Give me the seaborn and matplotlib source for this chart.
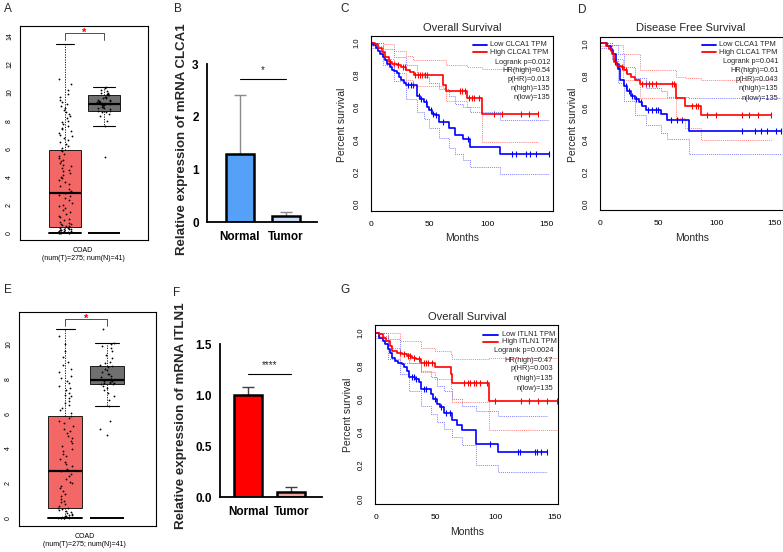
import numpy as np
import pandas as pd
import matplotlib
matplotlib.use("Agg")
import matplotlib.pyplot as plt
from matplotlib.lines import Line2D
import seaborn as sns

# ======================= DATA =======================
# ---- Panel A : CLCA1 expression (GEPIA box plot) ----
a_tumor_box = [0.0, 0.4, 2.8, 5.9, 13.5]      # whislo, q1, median, q3, whishi
a_normal_box = [7.6, 8.7, 9.2, 9.8, 10.4]
a_tumor_pts = [0.0, 0.0, 0.0, 0.0, 0.0, 0.0, 0.02, 0.05, 0.08, 0.1, 0.12, 0.15, 0.18, 0.2,
               0.22, 0.25, 0.28, 0.3, 0.33, 0.36, 0.4, 0.45, 0.5, 0.55, 0.6, 0.65, 0.7, 0.8,
               0.9, 1.0, 1.1, 1.2, 1.3, 1.45, 1.6, 1.75, 1.9, 2.0, 2.15, 2.3, 2.45, 2.6, 2.7,
               2.8, 2.9, 3.0, 3.15, 3.3, 3.45, 3.6, 3.75, 3.9, 4.0, 4.1, 4.25, 4.4, 4.5, 4.6,
               4.75, 4.85, 5.0, 5.1, 5.2, 5.35, 5.5, 5.6, 5.8, 5.9, 6.05, 6.2, 6.35, 6.5, 6.6,
               6.75, 6.9, 7.0, 7.1, 7.25, 7.4, 7.5, 7.6, 7.75, 7.9, 8.0, 8.15, 8.3, 8.45, 8.6,
               8.75, 8.9, 9.05, 9.2, 9.35, 9.5, 9.7, 9.9, 10.2, 10.6, 11.0]
a_normal_pts = [5.4, 7.6, 8.0, 8.3, 8.5, 8.6, 8.7, 8.7, 8.8, 8.9, 8.9, 9.0, 9.0, 9.1, 9.1,
                9.2, 9.2, 9.2, 9.3, 9.3, 9.3, 9.4, 9.4, 9.5, 9.5, 9.6, 9.6, 9.7, 9.7, 9.8,
                9.8, 9.9, 9.9, 10.0, 10.0, 10.1, 10.2, 10.3, 10.4, 9.1, 8.6]

# ---- Panel E : ITLN1 expression (GEPIA box plot) ----
e_tumor_box = [0.0, 0.6, 2.7, 5.85, 10.9]
e_normal_box = [6.45, 7.7, 7.95, 8.75, 10.1]
e_tumor_pts = [0.0, 0.0, 0.0, 0.0, 0.0, 0.0, 0.02, 0.05, 0.08, 0.1, 0.12, 0.15, 0.2, 0.25,
               0.3, 0.35, 0.4, 0.45, 0.5, 0.55, 0.6, 0.7, 0.8, 0.9, 1.0, 1.1, 1.25, 1.4, 1.55,
               1.7, 1.85, 2.0, 2.1, 2.25, 2.4, 2.55, 2.7, 2.85, 3.0, 3.1, 3.25, 3.4, 3.55,
               3.7, 3.85, 4.0, 4.15, 4.3, 4.45, 4.6, 4.75, 4.9, 5.0, 5.15, 5.3, 5.45, 5.6,
               5.75, 5.9, 6.05, 6.2, 6.35, 6.5, 6.6, 6.75, 6.9, 7.0, 7.1, 7.2, 7.35, 7.5, 7.6,
               7.75, 7.9, 8.05, 8.2, 8.4, 8.6, 8.8, 9.0, 9.3, 9.6, 10.0, 10.5]
e_normal_pts = [4.8, 5.1, 5.6, 6.45, 6.8, 7.0, 7.2, 7.4, 7.5, 7.6, 7.7, 7.7, 7.75, 7.8, 7.8,
                7.85, 7.9, 7.9, 7.95, 8.0, 8.0, 8.1, 8.2, 8.3, 8.4, 8.5, 8.6, 8.7, 8.75, 8.8,
                8.9, 9.0, 9.2, 9.4, 9.6, 9.8, 9.9, 10.0, 10.1, 10.9, 8.3]
box_cat_label = "COAD\n(num(T)=275; num(N)=41)"

# ---- Panels B / F : qPCR bar charts ----
bar_cats = ["Normal", "Tumor"]
b_means = [1.29, 0.114]
b_err = [1.13, 0.076]
f_means = [1.0, 0.055]
f_err = [0.08, 0.05]
b_ticks = [0, 1, 2, 3]
f_ticks = [0.0, 0.5, 1.0, 1.5]
b_sig, f_sig = "*", "****"
b_sig_level, f_sig_level = 2.72, 1.21

# ---- Panel C : Overall survival, CLCA1 ----
c_low_t = [0, 2, 4, 6, 8, 10, 12, 14, 16, 18, 20, 22, 24, 26, 28, 30, 39, 42, 45, 48, 50, 52,
           55, 58, 67, 72, 79, 85, 110, 152]
c_low_s = [1.0, 0.985, 0.97, 0.95, 0.93, 0.91, 0.89, 0.87, 0.85, 0.83, 0.825, 0.81, 0.79, 0.77,
           0.75, 0.735, 0.67, 0.65, 0.63, 0.60, 0.58, 0.56, 0.55, 0.51, 0.47, 0.43, 0.40,
           0.355, 0.31, 0.31]
c_high_t = [0, 3, 6, 9, 12, 15, 18, 22, 26, 30, 33, 37, 62, 64, 82, 95, 143]
c_high_s = [1.0, 0.99, 0.97, 0.94, 0.91, 0.88, 0.87, 0.86, 0.85, 0.83, 0.82, 0.80, 0.74, 0.70,
            0.66, 0.56, 0.56]
c_low_cens_t = [32, 34, 36, 41, 43, 47, 51, 53, 56, 62, 83, 121, 124, 133, 136, 141, 152]
c_low_cens_s = [0.735, 0.735, 0.735, 0.67, 0.65, 0.63, 0.58, 0.56, 0.55, 0.51, 0.40, 0.31, 0.31,
                0.31, 0.31, 0.31, 0.31]
c_high_cens_t = [16, 20, 23, 27, 29, 38, 40, 42, 44, 46, 48, 76, 78, 80, 84, 86, 88, 92, 105,
                 112, 128, 135, 143]
c_high_cens_s = [0.88, 0.87, 0.86, 0.85, 0.85, 0.80, 0.80, 0.80, 0.80, 0.80, 0.80, 0.70, 0.70,
                 0.70, 0.66, 0.66, 0.66, 0.66, 0.56, 0.56, 0.56, 0.56, 0.56]
c_high_ci_t = [0, 10, 20, 30, 36, 62, 64, 82, 95, 143]
c_high_ci_hi = [1.0, 0.99, 0.95, 0.92, 0.893, 0.89, 0.86, 0.85, 0.84, 0.84]
c_high_ci_lo = [0.98, 0.90, 0.81, 0.77, 0.73, 0.72, 0.64, 0.60, 0.385, 0.385]
c_low_ci_t = [0, 10, 20, 30, 39, 45, 50, 58, 67, 72, 79, 85, 110, 152]
c_low_ci_hi = [1.0, 0.96, 0.91, 0.86, 0.81, 0.79, 0.75, 0.71, 0.67, 0.62, 0.60, 0.57, 0.52, 0.52]
c_low_ci_lo = [0.97, 0.86, 0.76, 0.65, 0.57, 0.53, 0.47, 0.41, 0.35, 0.31, 0.27, 0.23, 0.185,
               0.185]
c_stats = ["Logrank p=0.012", "HR(high)=0.54", "p(HR)=0.013", "n(high)=135", "n(low)=135"]

# ---- Panel D : Disease free survival, CLCA1 ----
d_low_t = [0, 6.3, 9.2, 11.5, 13.5, 15.5, 17.2, 20.7, 23.6, 26.4, 29.9, 33.6, 36.5, 39.4, 52.9,
           57.5, 76.4, 156.3]
d_low_s = [1.0, 0.985, 0.96, 0.93, 0.87, 0.84, 0.77, 0.73, 0.70, 0.67, 0.65, 0.63, 0.61, 0.585,
           0.555, 0.52, 0.455, 0.455]
d_high_t = [0, 4.9, 7.8, 9.8, 10.6, 12, 15, 17.8, 20.7, 23.6, 26.4, 29.9, 34.2, 65.8, 73, 86.8,
            147.7]
d_high_s = [1.0, 0.98, 0.965, 0.95, 0.93, 0.88, 0.86, 0.85, 0.83, 0.81, 0.79, 0.77, 0.745,
            0.655, 0.61, 0.55, 0.55]
d_low_cens_t = [22, 25, 28, 31, 35, 41.4, 45, 48, 50, 61, 66.7, 71, 122.7, 134, 138.5, 144, 152,
                156.3]
d_low_cens_s = [0.73, 0.70, 0.67, 0.65, 0.63, 0.585, 0.585, 0.585, 0.585, 0.52, 0.52, 0.52,
                0.455, 0.455, 0.455, 0.455, 0.455, 0.455]
d_high_cens_t = [13, 16.5, 19, 22, 36.5, 39.4, 42.2, 45.1, 48, 62.4, 63.8, 79.6, 82.5, 84.5,
                 92.5, 99.7, 122.7, 128.4, 136.2, 147.7]
d_high_cens_s = [0.88, 0.86, 0.85, 0.83, 0.745, 0.745, 0.745, 0.745, 0.745, 0.745, 0.745, 0.61,
                 0.61, 0.61, 0.55, 0.55, 0.55, 0.55, 0.55, 0.55]
d_high_ci_t = [0, 10, 20, 34.2, 65.8, 73, 86.8, 147.7]
d_high_ci_hi = [1.0, 0.99, 0.93, 0.835, 0.79, 0.78, 0.77, 0.77]
d_high_ci_lo = [0.98, 0.90, 0.77, 0.66, 0.53, 0.47, 0.395, 0.395]
d_low_ci_t = [0, 10, 15.5, 20.7, 29.9, 39.4, 52.9, 57.5, 76.4, 156.3]
d_low_ci_hi = [1.0, 0.99, 0.93, 0.85, 0.78, 0.72, 0.70, 0.665, 0.655, 0.655]
d_low_ci_lo = [0.97, 0.90, 0.75, 0.64, 0.55, 0.49, 0.44, 0.40, 0.31, 0.31]
d_stats = ["Logrank p=0.041", "HR(high)=0.61", "p(HR)=0.043", "n(high)=135", "n(low)=135"]

# ---- Panel G : Overall survival, ITLN1 ----
g_low_t = [0, 3, 6, 8, 10, 12, 14, 16, 19, 22, 24, 26, 28, 33, 36, 38, 46, 48, 51, 54, 57, 64,
           68, 72, 84, 102, 143]
g_low_s = [1.0, 0.97, 0.95, 0.93, 0.90, 0.88, 0.85, 0.83, 0.82, 0.81, 0.79, 0.77, 0.73, 0.72,
           0.70, 0.66, 0.63, 0.60, 0.57, 0.55, 0.515, 0.47, 0.44, 0.41, 0.33, 0.28, 0.28]
g_high_t = [0, 3, 6, 9, 12, 14, 18, 22, 26, 30, 34, 38, 50, 63, 64, 95, 152]
g_high_s = [1.0, 0.99, 0.97, 0.95, 0.92, 0.89, 0.88, 0.87, 0.86, 0.85, 0.84, 0.82, 0.79, 0.75,
            0.695, 0.59, 0.59]
g_low_cens_t = [30, 32, 34, 40, 42, 50, 55, 59, 62, 96, 119, 121, 133, 135, 138, 143]
g_low_cens_s = [0.73, 0.73, 0.72, 0.66, 0.66, 0.60, 0.55, 0.515, 0.515, 0.33, 0.28, 0.28, 0.28,
                0.28, 0.28, 0.28]
g_high_cens_t = [20, 24, 27, 29, 32, 36, 40, 42, 44, 47, 74, 77, 79, 82, 84, 87, 93, 100, 122,
                 128, 136, 143, 152]
g_high_cens_s = [0.88, 0.87, 0.86, 0.86, 0.85, 0.84, 0.82, 0.82, 0.82, 0.82, 0.695, 0.695,
                 0.695, 0.695, 0.695, 0.695, 0.695, 0.59, 0.59, 0.59, 0.59, 0.59, 0.59]
g_high_ci_t = [0, 10, 20, 38, 50, 63, 64, 95, 152]
g_high_ci_hi = [1.0, 1.0, 0.95, 0.905, 0.89, 0.87, 0.84, 0.85, 0.85]
g_high_ci_lo = [0.98, 0.91, 0.82, 0.76, 0.72, 0.66, 0.58, 0.41, 0.41]
g_low_ci_t = [0, 10, 20, 28, 38, 46, 51, 57, 64, 72, 84, 102, 143]
g_low_ci_hi = [1.0, 0.96, 0.88, 0.82, 0.77, 0.73, 0.68, 0.65, 0.60, 0.56, 0.53, 0.50, 0.50]
g_low_ci_lo = [0.97, 0.84, 0.75, 0.65, 0.56, 0.51, 0.46, 0.42, 0.37, 0.32, 0.20, 0.16, 0.16]
g_stats = ["Logrank p=0.0024", "HR(high)=0.47", "p(HR)=0.003", "n(high)=135", "n(low)=135"]

km_xticks = [0, 50, 100, 150]
km_yticks = [0.0, 0.2, 0.4, 0.6, 0.8, 1.0]

# ======================= STYLE =======================
sns.set_style("white")
plt.rcParams["font.family"] = ["Liberation Sans", "DejaVu Sans"]
plt.rcParams["axes.edgecolor"] = "black"
plt.rcParams["axes.linewidth"] = 0.8
plt.rcParams["xtick.color"] = "black"
plt.rcParams["ytick.color"] = "black"

W, H = 783, 552
fig = plt.figure(figsize=(W / 100, H / 100), dpi=100)


def add_ax(l, t, r, b):
    return fig.add_axes([l / W, 1 - b / H, (r - l) / W, (b - t) / H])


def ftext(x, y, s, **kw):
    fig.text(x / W, 1 - y / H, s, **kw)


def label_coords(ax, box, px, py):
    l, t, r, b = box
    return (px - l) / (r - l), (b - py) / (b - t)


# ======================= BOX PANELS =======================
def box_panel(box, tumor_box, normal_box, tumor_pts, normal_pts, xlim, ylim, yticks,
              bracket):
    ax = add_ax(*box)
    pos_t, pos_n, w = 0.86, 1.164, 0.25
    stats = []
    for s5 in (tumor_box, normal_box):
        stats.append(dict(whislo=s5[0], q1=s5[1], med=s5[2], q3=s5[3], whishi=s5[4],
                          fliers=[]))
    art = ax.bxp(stats, positions=[pos_t, pos_n], widths=w, patch_artist=True,
                 manage_ticks=False, capwidths=[0.55 * w, 0.68 * w],
                 boxprops=dict(linewidth=0.6, edgecolor="black"),
                 medianprops=dict(color="black", linewidth=1.6),
                 whiskerprops=dict(color="black", linewidth=0.6, linestyle=(0, (1.5, 1.5))),
                 capprops=dict(color="black", linewidth=0.8), zorder=2)
    art["boxes"][0].set_facecolor("#F46767")
    art["boxes"][1].set_facecolor("#707070")
    # lower cap of tumour box across full width (zero-valued samples)
    art["caps"][0].set_xdata([pos_t - w / 2, pos_t + w / 2])
    art["caps"][0].set_linewidth(1.4)
    ax.hlines(0, pos_n - w / 2, pos_n + w / 2, color="black", linewidth=1.4, zorder=2)

    df = pd.DataFrame({"pos": [pos_t] * len(tumor_pts) + [pos_n] * len(normal_pts),
                       "val": list(tumor_pts) + list(normal_pts)})
    sns.stripplot(data=df, x="pos", y="val", native_scale=True, jitter=0.18, color="black",
                  size=1.3, linewidth=0, ax=ax, zorder=3)
    # significance bracket
    top, tip = bracket
    ax.plot([pos_t, pos_t, pos_n, pos_n], [tip, top, top, tip], color="#333333", lw=0.6)
    ax.text((pos_t + pos_n) / 2, top, "*", color="red", ha="center", va="center",
            fontsize=8, fontweight="bold")
    ax.set_xlim(*xlim)
    ax.set_ylim(*ylim)
    ax.set_xticks([1.0])
    ax.set_xticklabels([box_cat_label], fontsize=5, linespacing=1.25)
    ax.set_yticks(yticks)
    ax.set_yticklabels([str(v) for v in yticks], fontsize=5, rotation=90, va="center")
    ax.tick_params(axis="both", length=3, width=0.6, pad=2, direction="out")
    ax.set_xlabel("")
    ax.set_ylabel("")
    for sp in ax.spines.values():
        sp.set_visible(True)
        sp.set_linewidth(0.8)
    return ax


box_panel((20, 26, 148, 240), a_tumor_box, a_normal_box, a_tumor_pts, a_normal_pts,
          (0.508, 1.508), (-0.52, 14.75), list(range(0, 15, 2)), (14.24, 13.75))
box_panel((19, 311.7, 156, 526), e_tumor_box, e_normal_box, e_tumor_pts, e_normal_pts,
          (0.522, 1.522), (-0.46, 11.88), list(range(0, 11, 2)), (11.45, 11.05))


# ======================= BAR PANELS =======================
def bar_panel(box, means, errs, colors, ecolor, ticks, tickfmt, xlim, width, sig, sig_level,
              ylabel, ylab_xy, ylab_size):
    ax = add_ax(*box)
    sns.barplot(x=bar_cats, y=means, hue=bar_cats, palette=colors, width=width,
                saturation=1, edgecolor="black", linewidth=1.8, errorbar=None, legend=False,
                ax=ax, zorder=2)
    ax.errorbar(x=[0, 1], y=means, yerr=[[0, 0], errs], fmt="none", ecolor=ecolor,
                elinewidth=1.0, capsize=4.5, capthick=1.0, zorder=1)
    ax.plot([0, 1], [sig_level, sig_level], color="black", lw=0.8)
    ax.text(0.5, sig_level + 0.025 * ticks[-1], sig, ha="center", va="bottom", fontsize=7)
    ax.set_xlim(*xlim)
    ax.set_ylim(ticks[0], ticks[-1])
    ax.set_yticks(ticks)
    ax.set_yticklabels([tickfmt.format(v) for v in ticks], fontsize=8.5, fontweight="bold")
    ax.set_xticks([0, 1])
    ax.set_xticklabels(bar_cats, fontsize=8.5, fontweight="bold")
    sns.despine(ax=ax)
    for sp in ("left", "bottom"):
        ax.spines[sp].set_linewidth(1.3)
    ax.tick_params(axis="both", length=4, width=1.3, pad=2, direction="out")
    ax.set_xlabel("")
    ax.set_ylabel(ylabel, fontsize=ylab_size, fontweight="bold")
    ax.yaxis.set_label_coords(*label_coords(ax, box, *ylab_xy))
    ax.yaxis.label.set_va("center")
    return ax


bar_panel((207, 64.3, 316.7, 222.3), b_means, b_err, ["#55A1F7", "#C9DDF4"], "#8A8A8A",
          b_ticks, "{:d}", (-0.72, 1.68), 0.61, b_sig, b_sig_level,
          "Relative expression of mRNA CLCA1", (182, 139), 9.5)
bar_panel((220, 344.3, 321.7, 497.3), f_means, f_err, ["#FF0000", "#F4A3A3"], "#404040",
          f_ticks, "{:.1f}", (-0.657, 1.707), 0.66, f_sig, f_sig_level,
          "Relative expression of mRNA ITLN1", (181, 416), 9.6)


# ======================= KM PANELS =======================
def km_panel(box, xlim, ylim, low, high, low_c, high_c, low_ci, high_ci, title, gene, stats,
             title_xy, xlab_xy, ylab_xy, leg):
    ax = add_ax(*box)
    dotted = (0, (1, 1.3))
    for (t, hi, lo), col in ((high_ci, "#FF5A5A"), (low_ci, "#5A5AFF")):
        sns.lineplot(x=t, y=hi, drawstyle="steps-post", color=col, lw=0.6, linestyle=dotted,
                     estimator=None, ax=ax)
        sns.lineplot(x=t, y=lo, drawstyle="steps-post", color=col, lw=0.6, linestyle=dotted,
                     estimator=None, ax=ax)
    sns.lineplot(x=low[0], y=low[1], drawstyle="steps-post", color="#0000FF", lw=1.2,
                 estimator=None, ax=ax)
    sns.lineplot(x=high[0], y=high[1], drawstyle="steps-post", color="#FF0000", lw=1.2,
                 estimator=None, ax=ax)
    sns.scatterplot(x=low_c[0], y=low_c[1], marker="|", s=22, color="#0000FF",
                    linewidth=0.8, ax=ax)
    sns.scatterplot(x=high_c[0], y=high_c[1], marker="|", s=22, color="#FF0000",
                    linewidth=0.8, ax=ax)
    ax.set_xlim(*xlim)
    ax.set_ylim(*ylim)
    ax.set_xticks(km_xticks)
    ax.set_xticklabels([str(v) for v in km_xticks], fontsize=6)
    ax.set_yticks(km_yticks)
    ax.set_yticklabels(["{:.1f}".format(v) for v in km_yticks], fontsize=5.5, rotation=90,
                       va="center")
    ax.tick_params(axis="x", length=3, width=0.6, pad=4, direction="out")
    ax.tick_params(axis="y", length=3, width=0.6, pad=4.5, direction="out")
    for sp in ax.spines.values():
        sp.set_visible(True)
        sp.set_linewidth(0.8)
    ax.set_title(title, fontsize=8)
    ax.title.set_position(label_coords(ax, box, *title_xy))
    ax.title.set_va("center")
    ax.set_xlabel("Months", fontsize=7.5)
    ax.xaxis.set_label_coords(*label_coords(ax, box, *xlab_xy))
    ax.xaxis.label.set_va("center")
    ax.set_ylabel("Percent survival", fontsize=7.5)
    ax.yaxis.set_label_coords(*label_coords(ax, box, *ylab_xy))
    ax.yaxis.label.set_va("center")
    # legend block (pixel positions)
    lx0, lx1, tx, rx, y_low, y_high, y_stats = leg
    for yy, col, lab in ((y_low, "#0000FF", "Low %s TPM" % gene),
                         (y_high, "#FF0000", "High %s TPM" % gene)):
        fig.add_artist(Line2D([lx0 / W, lx1 / W], [1 - yy / H, 1 - yy / H], color=col,
                              lw=1.3, transform=fig.transFigure))
        ftext(tx, yy, lab, fontsize=5.3, va="center", ha="left")
    for yy, s in zip(y_stats, stats):
        ftext(rx, yy, s, fontsize=5.3, va="center", ha="right")
    return ax


km_panel((371, 36, 553, 211), (0, 155.7), (-0.0434, 1.0415),
         (c_low_t, c_low_s), (c_high_t, c_high_s), (c_low_cens_t, c_low_cens_s),
         (c_high_cens_t, c_high_cens_s), (c_low_ci_t, c_low_ci_hi, c_low_ci_lo),
         (c_high_ci_t, c_high_ci_hi, c_high_ci_lo), "Overall Survival", "CLCA1", c_stats,
         (462, 29.3), (462, 238.3), (341.7, 125),
         (472.7, 486.7, 490, 550.5, 45, 52.3, [62, 70.7, 79.7, 88.3, 97.3]))
km_panel((600, 36.7, 782.7, 210), (0, 157.5), (-0.0416, 1.041),
         (d_low_t, d_low_s), (d_high_t, d_high_s), (d_low_cens_t, d_low_cens_s),
         (d_high_cens_t, d_high_cens_s), (d_low_ci_t, d_low_ci_hi, d_low_ci_lo),
         (d_high_ci_t, d_high_ci_hi, d_high_ci_lo), "Disease Free Survival", "CLCA1", d_stats,
         (690.5, 30), (691.7, 238.3), (572.7, 125),
         (701.7, 716, 719.3, 778.3, 45, 52.3, [61.7, 70, 79.5, 88.7, 98]))
km_panel((375, 325, 558.3, 504.3), (-0.59, 152.8), (-0.036, 1.0465),
         (g_low_t, g_low_s), (g_high_t, g_high_s), (g_low_cens_t, g_low_cens_s),
         (g_high_cens_t, g_high_cens_s), (g_low_ci_t, g_low_ci_hi, g_low_ci_lo),
         (g_high_ci_t, g_high_ci_hi, g_high_ci_lo), "Overall Survival", "ITLN1", g_stats,
         (467, 319.3), (467, 532.3), (348.3, 415),
         (483.3, 498.3, 501.7, 553, 335, 341.7, [351, 360, 369, 379, 388.3]))

# ======================= PANEL LETTERS =======================
for x, y, s in ((8, 9, "A"), (178, 9, "B"), (345, 9, "C"), (582, 10, "D"),
                (8, 290, "E"), (177, 293, "F"), (345, 290, "G")):
    ftext(x, y, s, fontsize=8.5, ha="center", va="center")

fig.savefig("out.png", dpi=100)
